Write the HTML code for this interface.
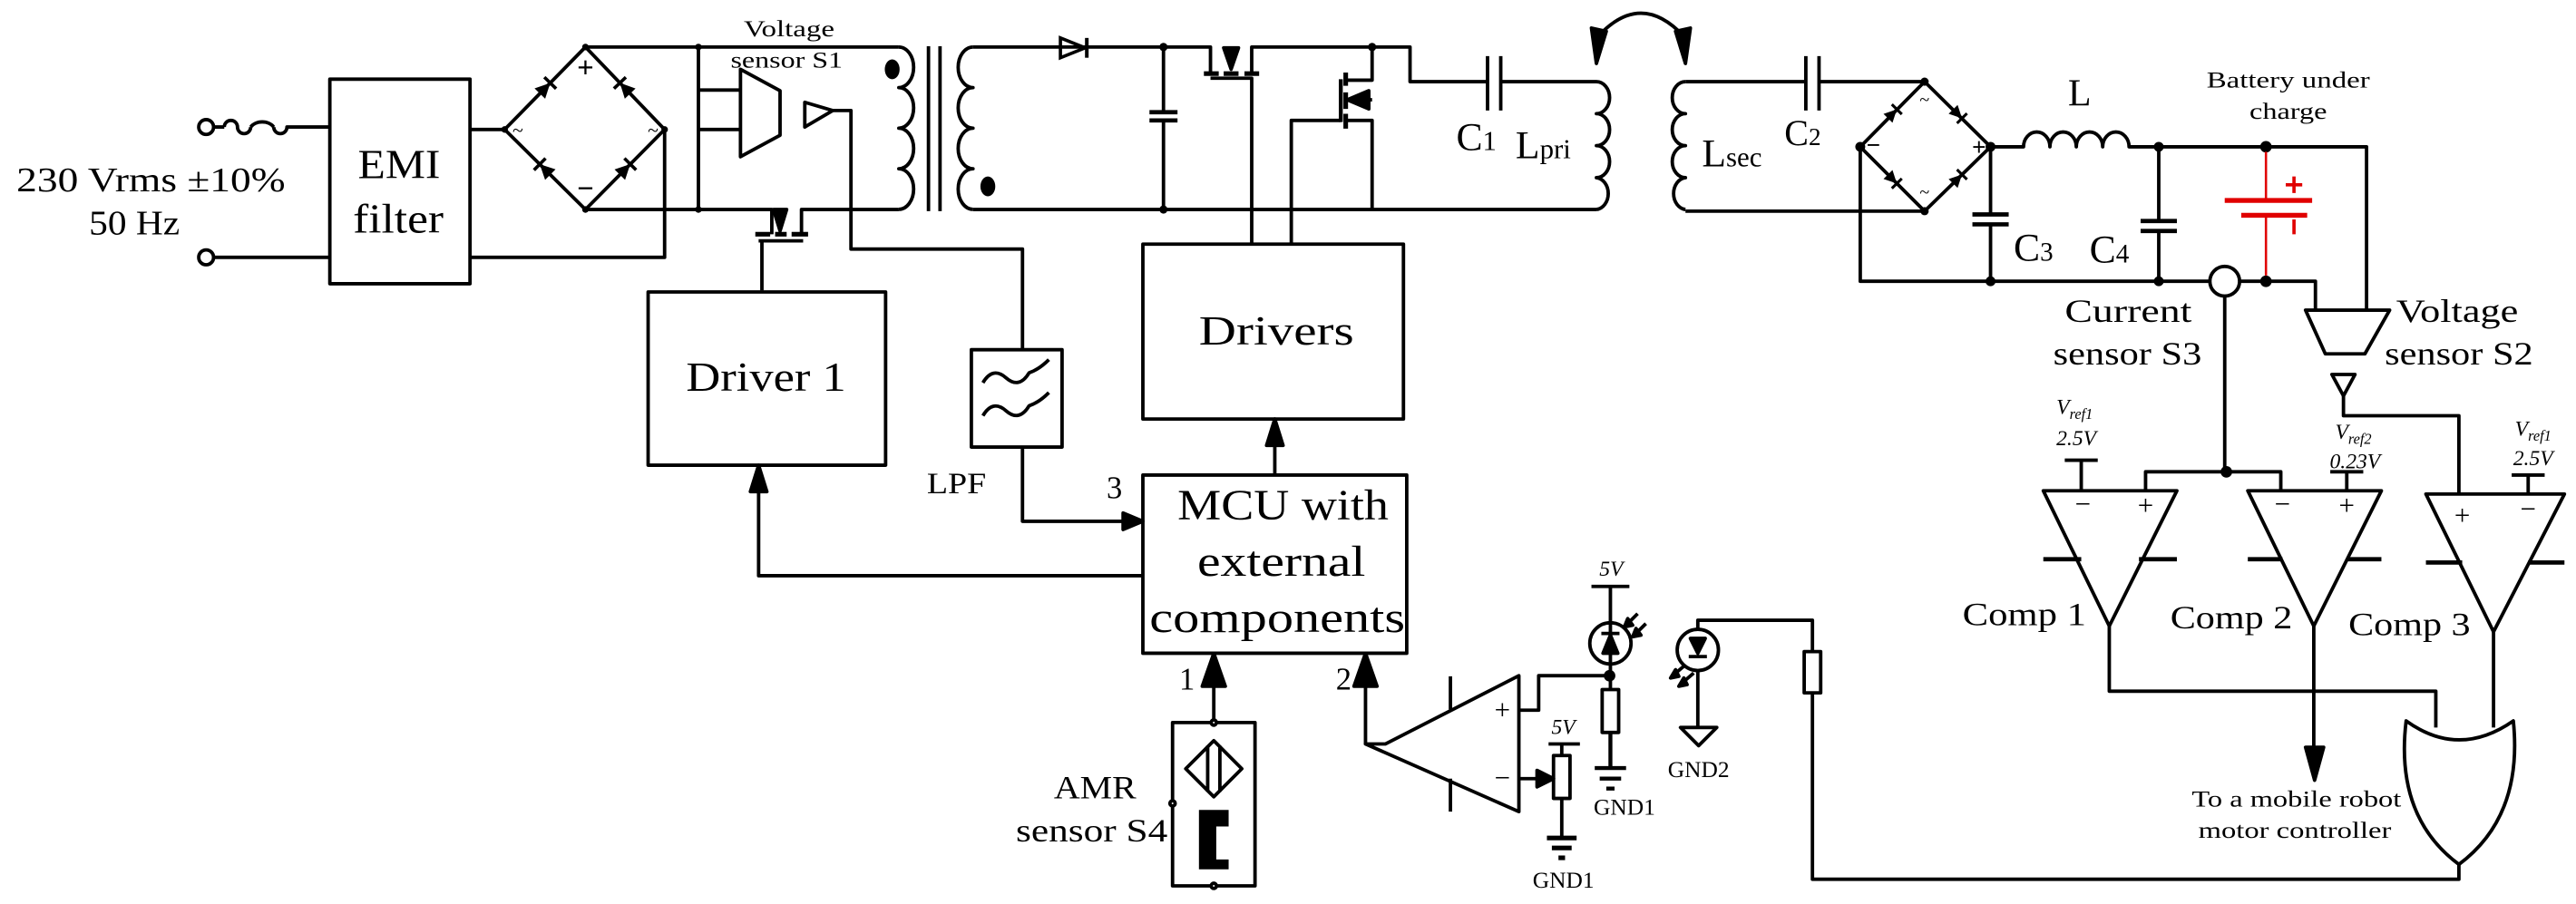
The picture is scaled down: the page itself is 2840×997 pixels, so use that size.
<!DOCTYPE html>
<html><head><meta charset="utf-8"><style>
html,body{margin:0;padding:0;background:#fff;}
svg{display:block;font-family:"Liberation Serif","DejaVu Serif",serif;}
svg text{font-family:"Liberation Serif","DejaVu Serif",serif;fill:#000;}
</style></head><body>
<svg width="2840" height="997" viewBox="0 0 1562 548" preserveAspectRatio="none" xmlns="http://www.w3.org/2000/svg" font-family="Liberation Serif, DejaVu Serif, serif">
<defs>
<g id="dio"><path d="M-4.5,-4.5 L4.5,0 L-4.5,4.5 Z" fill="#000"/><line x1="4.5" y1="-5" x2="4.5" y2="5" stroke="#000" stroke-width="2"/></g>
</defs>
<g fill="none" stroke="#000" stroke-width="2.1" stroke-linejoin="round">
<circle cx="125" cy="77" r="4.5" fill="#fff"/>
<circle cx="125" cy="156" r="4.5" fill="#fff"/>
<path d="M129.5,77 L136,77 M136,77 a4,4 0 1 1 8,0 a4,4 0 1 0 8,0 M152,77 a8,6 0 0 1 14,0 M166,77 a4,4 0 1 0 8,0 L200,77"/>
<path d="M129.5,156 L200,156"/>
<rect x="200" y="48" width="85" height="124"/>
<path d="M285,78.5 L306,78.5 M285,156 L403,156 L403,78.5"/>
<path d="M355,28.5 L306,78.5 L355,127 L403,78.5 Z"/>
<path d="M355,28.5 L545,28.5 M355,127 L468,127 L468,142 M486,142 L486,127 L545,127"/>
<path d="M423.5,28.5 L423.5,127 M423.5,54.6 L449,54.6 M423.5,78.5 L449,78.5"/>
<path d="M449,42 L473,55 L473,82 L449,95 Z"/>
<path d="M488,62 L488,77 L505,67 Z"/>
<path d="M505,67 L516,67 L516,151 L620,151 L620,212"/>
<path d="M458,142 L467,142 M470,142 L477,142 M480,142 L490,142" stroke-width="2.8"/>
<path d="M460,146 L487,146 M462,146 L462,176"/>
<path d="M469,127 L477,127 L473,140 Z" fill="#000"/>
<path d="M545,28.5 a9,12.3 0 0 1 0,24.6 a9,12.3 0 0 1 0,24.6 a9,12.3 0 0 1 0,24.6 a9,12.3 0 0 1 0,24.6"/>
<path d="M563,28 L563,128 M570,28 L570,128"/>
<path d="M590,28.5 a9,12.3 0 0 0 0,24.6 a9,12.3 0 0 0 0,24.6 a9,12.3 0 0 0 0,24.6 a9,12.3 0 0 0 0,24.6"/>
<path d="M590,28.5 L734,28.5 L734,44 M759,44 L759,28.5 L855,28.5 L855,49.5 L902,49.5 M910,49.5 L968,49.5"/>
<path d="M590,127 L968,127"/>
<path d="M705.5,28.5 L705.5,68 M705.5,73 L705.5,127"/>
<path d="M697,68 L714,68 M697,73 L714,73" stroke-width="2.6"/>
<path d="M730,44.6 L739,44.6 M742,44.6 L751,44.6 M754.6,44.6 L763.5,44.6" stroke-width="2.8"/>
<path d="M734,47.4 L759,47.4 L759,148"/>
<path d="M742,29 L751,29 L746.5,42 Z" fill="#000"/>
<path d="M813,48 L813,74" stroke-width="2.4"/>
<path d="M816,44 L816,52 M816,56 L816,66 M816,69 L816,78" stroke-width="2.8"/>
<path d="M816,48.6 L832,48.6 L832,28.5 M816,73 L832,73 L832,127 M813,73 L783,73 L783,148 M817,60.5 L832,60.5"/>
<path d="M817,60.5 L830,55 L830,66 Z" fill="#000"/>
<path d="M902,34 L902,67 M910,34 L910,67"/>
<path d="M968,49.5 a8,9.7 0 0 1 0,19.4 a8,9.7 0 0 1 0,19.4 a8,9.7 0 0 1 0,19.4 a8,9.7 0 0 1 0,19.3"/>
<path d="M969,22 Q995,-6 1021,22"/>
<path d="M965,17 L974,19 L968,38.5 Z M1016,19 L1025,17 L1022,38.5 Z" fill="#000"/>
<path d="M1022,49.5 a8,9.7 0 0 0 0,19.4 a8,9.7 0 0 0 0,19.4 a8,9.7 0 0 0 0,19.4 a8,9.7 0 0 0 0,19.3"/>
<path d="M1022,49.5 L1095,49.5 M1103,49.5 L1167,49.5 M1022,128 L1167,128"/>
<path d="M1095,34 L1095,67 M1103,34 L1103,67"/>
<path d="M1167,49.5 L1128,89 L1167,128 L1207,89 Z"/>
<path d="M1207,89 L1227,89 a8,9 0 0 1 16,0 a8,9 0 0 1 16,0 a8,9 0 0 1 16,0 a8,9 0 0 1 16,0 L1435,89 L1435,188"/>
<path d="M1128,89 L1128,170.5 L1340,170.5 M1358,170.5 L1404,170.5 L1404,188"/>
<path d="M1207,89 L1207,130 M1207,136 L1207,170.5 M1309,89 L1309,134 M1309,140 L1309,170.5"/>
<path d="M1196,130 L1218,130 M1196,136 L1218,136 M1298,134 L1320,134 M1298,140 L1320,140" stroke-width="2.6"/>
<circle cx="1349" cy="170.5" r="9"/>
<path d="M1349,179.5 L1349,286"/>
<path d="M1398,188 L1449,188 L1434,214.5 L1410,214.5 Z"/>
<path d="M1414,227 L1428,227 L1421,240 Z"/>
<path d="M1421,240 L1421,252 L1491,252 L1491,299.5"/>
<path d="M1239,297.5 L1320,297.5 L1279,379.5 Z"/>
<path d="M1363,297.5 L1444,297.5 L1403,379.5 Z"/>
<path d="M1471,299.5 L1555,299.5 L1512,383 Z"/>
<path d="M1239,339 L1262,339 M1297,339 L1320,339 M1363,339 L1384,339 M1423,339 L1444,339 M1471,341 L1493,341 M1533,341 L1555,341" stroke-width="2.6"/>
<path d="M1262,297.5 L1262,279 M1252,279 L1272,279"/>
<path d="M1301,297.5 L1301,286 L1383,286 L1383,297.5"/>
<path d="M1423,297.5 L1423,286 M1413,286 L1433,286"/>
<path d="M1533,299.5 L1533,288 M1523,288 L1543,288"/>
<path d="M1279,379.5 L1279,419 L1477,419 L1477,441"/>
<path d="M1403,379.5 L1403,455"/>
<path d="M1398,453 L1409,453 L1403.5,473 Z" fill="#000"/>
<path d="M1512,383 L1512,441"/>
<path d="M1459,437 Q1491,460 1524,437 Q1530,495 1491,524 Q1452,495 1459,437 Z"/>
<path d="M1491,524 L1491,533 L1099,533 L1099,420 M1099,395 L1099,376 L1029.5,376 L1029.5,381"/>
<rect x="1094" y="395" width="10" height="25"/>
<circle cx="1029.5" cy="394" r="12.5"/>
<path d="M1029.5,406.5 L1029.5,441 M1019,441 L1041,441 L1030,452 Z"/>
<path d="M1025,387 L1034,387 L1029.5,396 Z M1024,398 L1035,398" fill="#000"/>
<path d="M1022,403 L1015,409 M1027,408 L1020,414"/>
<path d="M1013,411 L1018,410 L1016,406 Z M1018,416 L1023,415 L1021,411 Z" fill="#000"/>
<rect x="393" y="177" width="144" height="105"/>
<rect x="589" y="212" width="55" height="59"/>
<path d="M596,232 q6,-10 14,-3 t14,-3 q6,-2 12,-8 M596,252 q6,-10 14,-3 t14,-3 q6,-2 12,-8"/>
<rect x="693" y="148" width="158" height="106"/>
<rect x="693" y="288" width="160" height="108"/>
<path d="M620,271 L620,316 L683,316"/>
<path d="M681,311 L693,316 L681,321 Z" fill="#000"/>
<path d="M693,349 L460,349 L460,296"/>
<path d="M455,298 L460,282 L465,298 Z" fill="#000"/>
<path d="M773,288 L773,268"/>
<path d="M768,270 L773,254 L778,270 Z" fill="#000"/>
<rect x="711" y="438" width="50" height="99"/>
<path d="M736,438 L736,414"/>
<path d="M729,416 L736,396 L743,416 Z" fill="#000"/>
<path d="M736,449 L753,466 L736,483 L719,466 Z M732.3,452 L732.3,480 M739.7,452 L739.7,480"/>
<path d="M727,491 L745,491 L745,501 L737.5,501 L737.5,521 L745,521 L745,527 L727,527 Z" fill="#000" stroke="none"/>
<circle cx="736" cy="438" r="1.6" fill="#fff"/><circle cx="711" cy="487" r="1.6" fill="#fff"/><circle cx="736" cy="537" r="1.6" fill="#fff"/>
<path d="M828,451 L828,414"/>
<path d="M821,416 L828,396 L835,416 Z" fill="#000"/>
<path d="M828,451 L840,451 L921,409.6 L921,492 Z"/>
<path d="M879.5,410 L879.5,430 M879.5,472 L879.5,492"/>
<path d="M921,430.5 L933,430.5 L933,409.6 L976,409.6"/>
<path d="M921,472 L933,472"/>
<path d="M932,467 L942,472 L932,477 Z" fill="#000"/>
<rect x="942" y="458" width="10" height="26"/>
<path d="M939,451 L958,451 M947,451 L947,458 M947,484 L947,508"/>
<path d="M938,508 L956,508 M941,514 L953,514 M945,520 L949,520" stroke-width="2.8"/>
<path d="M965,355.5 L988,355.5 M976.5,355.5 L976.5,418"/>
<circle cx="976.5" cy="390" r="12.5"/>
<path d="M972,396 L981,396 L976.5,385 Z M971,384 L982,384" fill="#000"/>
<rect x="971.5" y="418" width="10" height="26"/>
<path d="M976.5,444 L976.5,465.6 M967,465.6 L986,465.6 M970,472 L983,472 M974,478 L979,478" stroke-width="2.4"/>
<path d="M987,378 L993,372 M992,384 L998,378"/>
<path d="M985,380 L990,379 L987,375 Z M990,386 L995,385 L992,381 Z" fill="#000"/>
</g>
<g fill="#000">
<circle cx="423.5" cy="28.5" r="2"/><circle cx="423.5" cy="127" r="2"/>
<circle cx="355" cy="28.5" r="2"/><circle cx="355" cy="127" r="2"/><circle cx="306" cy="78.5" r="2"/><circle cx="403" cy="78.5" r="2"/>
<circle cx="705.5" cy="28.5" r="2.5"/><circle cx="705.5" cy="127" r="2.5"/><circle cx="832" cy="28.5" r="2.5"/>
<ellipse cx="541" cy="42" rx="4.5" ry="6"/><ellipse cx="599" cy="113" rx="4.5" ry="6"/>
<circle cx="1167" cy="49.5" r="2.5"/><circle cx="1167" cy="128" r="2.5"/><circle cx="1128" cy="89" r="3"/><circle cx="1207" cy="89" r="3"/>
<circle cx="1309" cy="89" r="3"/><circle cx="1374" cy="89" r="3.5"/><circle cx="1207" cy="170.5" r="3"/><circle cx="1309" cy="170.5" r="3"/><circle cx="1374" cy="170.5" r="3.5"/>
<circle cx="1350" cy="286" r="3.5"/><circle cx="976" cy="409.6" r="3.5"/>
</g>
<use href="#dio" transform="translate(330.5,53.5) rotate(-45.6)"/>
<use href="#dio" transform="translate(379,53.5) rotate(-133.8)"/>
<use href="#dio" transform="translate(330.5,102.7) rotate(-135.3)"/>
<use href="#dio" transform="translate(379,102.7) rotate(-45.3)"/>
<use href="#dio" transform="translate(1147.5,69) rotate(-45.4) scale(0.85)"/>
<use href="#dio" transform="translate(1187,69) rotate(45.3) scale(0.85)"/>
<use href="#dio" transform="translate(1147.5,108.5) rotate(45.4) scale(0.85)"/>
<use href="#dio" transform="translate(1187,108.5) rotate(-45.3) scale(0.85)"/>
<path d="M643,23 L658,29 L643,35 Z" fill="none" stroke="#000" stroke-width="2"/>
<path d="M659,23 L659,35" stroke="#000" stroke-width="2.2"/>
<g stroke="#e00000" fill="none">
<path d="M1374,92 L1374,121.5 M1374,130.5 L1374,167" stroke-width="1.4"/>
<path d="M1349,121.5 L1402,121.5 M1359,130.5 L1399,130.5" stroke-width="3"/>
<path d="M1391,107 L1391,117 M1386,112 L1396,112 M1391,133 L1391,142" stroke-width="2"/>
</g>
<g font-family="Liberation Serif, DejaVu Serif, serif">
<g font-size="14" text-anchor="middle">
<text x="355" y="47" font-size="18" font-weight="bold">+</text>
<text x="355" y="120" font-size="18" font-weight="bold">−</text>
<text x="314" y="83" font-size="12">~</text><text x="396" y="83" font-size="12">~</text>
<text x="1167" y="64" font-size="11">~</text><text x="1167" y="120" font-size="11">~</text>
<text x="1200" y="94" font-size="15" font-weight="bold">+</text><text x="1136" y="93" font-size="15" font-weight="bold">−</text>
</g>
<text x="10" y="116" font-size="21" textLength="163" lengthAdjust="spacingAndGlyphs">230 Vrms ±10%</text>
<text x="54" y="142" font-size="21" textLength="55" lengthAdjust="spacingAndGlyphs">50 Hz</text>
<text x="217" y="108" font-size="25" textLength="50" lengthAdjust="spacingAndGlyphs">EMI</text>
<text x="214" y="141" font-size="25" textLength="55" lengthAdjust="spacingAndGlyphs">filter</text>
<text x="451" y="22" font-size="14" textLength="55" lengthAdjust="spacingAndGlyphs">Voltage</text>
<text x="443" y="41" font-size="14" textLength="68" lengthAdjust="spacingAndGlyphs">sensor S1</text>
<text x="416" y="237" font-size="25" textLength="97" lengthAdjust="spacingAndGlyphs">Driver 1</text>
<text x="727" y="209" font-size="25" textLength="94" lengthAdjust="spacingAndGlyphs">Drivers</text>
<text x="562" y="299" font-size="18" textLength="36" lengthAdjust="spacingAndGlyphs">LPF</text>
<text x="671" y="302" font-size="19">3</text>
<text x="714" y="315" font-size="26" textLength="128" lengthAdjust="spacingAndGlyphs">MCU with</text>
<text x="726" y="349" font-size="26" textLength="102" lengthAdjust="spacingAndGlyphs">external</text>
<text x="697" y="383" font-size="26" textLength="155" lengthAdjust="spacingAndGlyphs">components</text>
<text x="715" y="418" font-size="19">1</text>
<text x="810" y="418" font-size="19">2</text>
<text x="639" y="484" font-size="20" textLength="50" lengthAdjust="spacingAndGlyphs">AMR</text>
<text x="616" y="510" font-size="20" textLength="92" lengthAdjust="spacingAndGlyphs">sensor S4</text>
<text x="883" y="91" font-size="24">C<tspan font-size="17">1</tspan></text>
<text x="919" y="96" font-size="24">L<tspan font-size="17">pri</tspan></text>
<text x="1032" y="101" font-size="24">L<tspan font-size="17">sec</tspan></text>
<text x="1082" y="88" font-size="22">C<tspan font-size="15">2</tspan></text>
<text x="1254" y="64" font-size="23">L</text>
<text x="1338" y="53" font-size="14" textLength="99" lengthAdjust="spacingAndGlyphs">Battery under</text>
<text x="1364" y="72" font-size="14" textLength="47" lengthAdjust="spacingAndGlyphs">charge</text>
<text x="1221" y="158" font-size="24">C<tspan font-size="16">3</tspan></text>
<text x="1267" y="159" font-size="24">C<tspan font-size="16">4</tspan></text>
<text x="1252" y="195" font-size="20" textLength="77" lengthAdjust="spacingAndGlyphs">Current</text>
<text x="1245" y="221" font-size="20" textLength="90" lengthAdjust="spacingAndGlyphs">sensor S3</text>
<text x="1453" y="195" font-size="20" textLength="74" lengthAdjust="spacingAndGlyphs">Voltage</text>
<text x="1446" y="221" font-size="20" textLength="90" lengthAdjust="spacingAndGlyphs">sensor S2</text>
<g font-style="italic" font-size="13" text-anchor="middle">
<text x="1258" y="251">V<tspan font-size="9" dy="3">ref1</tspan></text>
<text x="1259" y="270">2.5V</text>
<text x="1427" y="266">V<tspan font-size="9" dy="3">ref2</tspan></text>
<text x="1428" y="284">0.23V</text>
<text x="1536" y="264">V<tspan font-size="9" dy="3">ref1</tspan></text>
<text x="1536" y="282">2.5V</text>
<text x="977" y="349">5V</text>
<text x="948" y="445">5V</text>
</g>
<g font-size="17" text-anchor="middle">
<text x="1263" y="311">−</text><text x="1301" y="312">+</text>
<text x="1384" y="311">−</text><text x="1423" y="312">+</text>
<text x="1493" y="318">+</text><text x="1533" y="314">−</text>
<text x="911" y="436">+</text><text x="911" y="477">−</text>
</g>
<text x="1190" y="379" font-size="20" textLength="75" lengthAdjust="spacingAndGlyphs">Comp 1</text>
<text x="1316" y="381" font-size="20" textLength="74" lengthAdjust="spacingAndGlyphs">Comp 2</text>
<text x="1424" y="385" font-size="20" textLength="74" lengthAdjust="spacingAndGlyphs">Comp 3</text>
<text x="1329" y="489" font-size="14" textLength="127" lengthAdjust="spacingAndGlyphs">To a mobile robot</text>
<text x="1333" y="508" font-size="14" textLength="117" lengthAdjust="spacingAndGlyphs">motor controller</text>
<text x="1030" y="471" font-size="14" text-anchor="middle">GND2</text>
<text x="985" y="494" font-size="14" text-anchor="middle">GND1</text>
<text x="948" y="538" font-size="14" text-anchor="middle">GND1</text>
</g>
</svg>
</body></html>
